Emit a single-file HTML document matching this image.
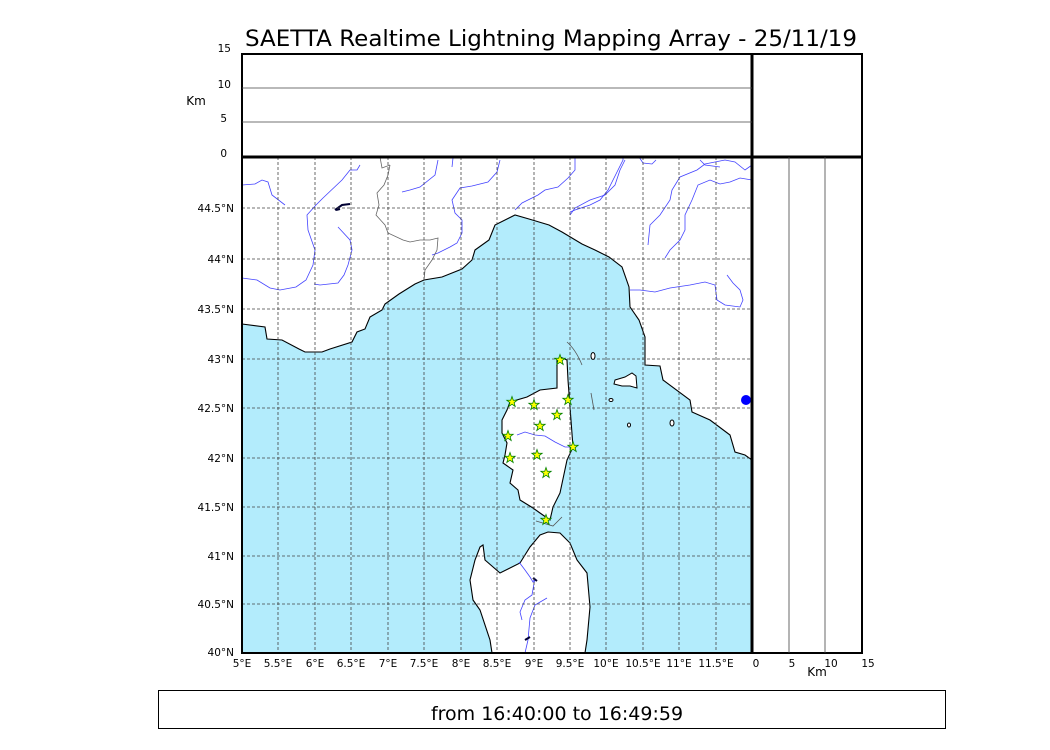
<!DOCTYPE html>
<html><head><meta charset="utf-8"><style>
body{margin:0;background:#fff;}
svg{display:block;font-family:"DejaVu Sans","Liberation Sans",sans-serif;}
</style></head><body>
<svg width="1050" height="750" viewBox="0 0 1050 750" xmlns="http://www.w3.org/2000/svg">
<rect width="1050" height="750" fill="#fff"/>
<text x="245" y="46" font-size="22" textLength="612" lengthAdjust="spacingAndGlyphs">SAETTA Realtime Lightning Mapping Array - 25/11/19</text>

<!-- sea -->
<path d="M242,324 L265,327 267,339 282,340 299,349 305,352 322,352 330,349 352,342 357,332 365,329 370,317 382,310 385,304 399,294 415,284 424,280 442,277 462,269 472,260 475,250 489,240 495,225 515,215 529,219 549,225 562,232 582,244 595,250 609,257 622,267 629,287 630,307 639,320 645,337 645,360 645,365 660,366 663,380 690,400 692,412 710,420 730,435 735,452 745,455 752,460 L752,653 L242,653 Z" fill="#b3ecfc" stroke="#000" stroke-width="1.1"/>
<!-- Corsica -->
<path d="M560,357 567,360 568,380 570,407 573,447 567,460 560,493 553,507 550,520 540,513 533,508 520,500 518,490 510,483 513,470 503,463 505,455 507,443 502,433 502,420 507,410 510,402 527,397 540,390 557,388 557,360 Z" fill="#fff" stroke="#000" stroke-width="1.1"/>
<!-- Sardinia -->
<path d="M548,532 560,533 570,543 577,560 587,573 590,607 587,640 585,653 492,653 490,640 480,610 473,600 470,580 475,560 480,547 483,545 485,560 500,573 520,563 530,547 540,535 Z" fill="#fff" stroke="#000" stroke-width="1.1"/>
<!-- small islands -->
<path d="M615,380 625,377 632,373 636,376 637,388 630,386 622,386 614,384 Z" fill="#fff" stroke="#000"/>
<ellipse cx="593" cy="356" rx="2" ry="3.5" fill="#fff" stroke="#000"/>
<ellipse cx="611" cy="400" rx="2" ry="1.5" fill="#fff" stroke="#000"/>
<ellipse cx="629" cy="425" rx="1.5" ry="2" fill="#fff" stroke="#000"/>
<ellipse cx="672" cy="423" rx="2" ry="3" fill="#fff" stroke="#000"/>
<ellipse cx="746" cy="400" rx="5" ry="5" fill="#0000ff"/>
<path d="M567,342 Q576,350 582,365" fill="none" stroke="#555" stroke-width="0.8"/>
<path d="M591,393 L594,410" fill="none" stroke="#555" stroke-width="0.8"/>
<path d="M536,521 L553,526 562,517" fill="none" stroke="#555" stroke-width="0.8"/>

<!-- rivers -->
<g fill="none" stroke="#4444ff" stroke-width="0.8">
<path d="M242,185 L255,184 262,180 268,182 272,195 285,205"/>
<path d="M360,165 L357,170 350,170 342,180 323,198 316,205 307,215 308,230 315,250 313,265 306,280 296,287 280,290 270,288 257,280 242,278"/>
<path d="M338,227 L350,240 352,250 348,265 344,275 338,283 320,285 314,284"/>
<path d="M438,160 L435,175 420,187 410,190 402,192"/>
<path d="M453,158 L452,167"/>
<path d="M500,160 L497,172 488,182 472,186 460,188 452,200 455,213 462,220 462,233 457,243 450,247 438,253 432,255"/>
<path d="M575,157 L575,170 568,178 558,187 545,190 538,195 522,203 515,210"/>
<path d="M570,215 L575,208 590,200 605,195 615,185 620,170 625,160"/>
<path d="M639,157 L643,163 652,164 656,160"/>
<path d="M700,160 L705,165 720,167"/>
<path d="M623,157 L623,160 L608,190 600,200 590,205 575,210 570,212"/>
<path d="M752,165 L745,170 735,162 725,160 705,164 697,170 680,177 672,190 670,200 660,215 650,225 648,245"/>
<path d="M752,180 L740,178 730,182 720,184 710,180 698,185 692,200 685,215 685,230 680,240 670,250 665,258"/>
<path d="M630,290 L640,290 655,292 670,288 690,285 705,282 715,285 717,300 725,305 740,307 743,300 740,290 733,283 727,275"/>
<path d="M517,435 L525,432 535,435 545,436 555,442 565,447 572,447"/>
<path d="M519,562 L525,570 530,577 533,582 535,578 532,595 525,600 520,612 522,620"/>
<path d="M547,598 L535,605 530,618 528,640 525,653"/>
</g>
<path d="M335,210 L342,205 350,204 M336,210 L340,209" stroke="#000033" stroke-width="2" fill="none"/>
<path d="M533,578 L537,581 M525,640 L530,637" stroke="#000033" stroke-width="2" fill="none"/>
<!-- border -->
<path d="M390,165 L388,175 384,185 377,193 379,205 376,215 385,225 388,233 403,240 410,242 420,240 430,240 438,238 437,250 432,260 425,270 424,280" fill="none" stroke="#666" stroke-width="0.8"/>
<path d="M380,157 L382,168 390,165" fill="none" stroke="#666" stroke-width="0.8"/>

<!-- grid -->
<g stroke="#444" stroke-width="0.8" stroke-dasharray="3,2">
<path d="M278,157V653M315,157V653M351,157V653M388,157V653M424,157V653M461,157V653M497,157V653M534,157V653M570,157V653M606,157V653M643,157V653M679,157V653M716,157V653"/>
<path d="M242,208H752M242,259H752M242,309H752M242,359H752M242,408H752M242,458H752M242,507H752M242,556H752M242,604H752"/>
</g>

<!-- stars -->
<g fill="#ffff00" stroke="#008000" stroke-width="0.8">
<path id="s" d="M0,-5.5 L1.3,-1.8 5.2,-1.7 2.1,0.7 3.2,4.5 0,2.2 -3.2,4.5 -2.1,0.7 -5.2,-1.7 -1.3,-1.8 Z" transform="translate(560,360)"/>
<use href="#s" x="-48" y="42"/><use href="#s" x="-26" y="45"/><use href="#s" x="8" y="40"/>
<use href="#s" x="-3" y="55"/><use href="#s" x="-20" y="66"/><use href="#s" x="-52" y="76"/>
<use href="#s" x="13" y="87"/><use href="#s" x="-23" y="95"/><use href="#s" x="-50" y="98"/>
<use href="#s" x="-14" y="113"/><use href="#s" x="-14" y="160"/>
</g>

<!-- frames -->
<rect x="242" y="54" width="620" height="599" fill="none" stroke="#000" stroke-width="2"/>
<line x1="242" y1="157" x2="862" y2="157" stroke="#000" stroke-width="3"/>
<line x1="752" y1="54" x2="752" y2="653" stroke="#000" stroke-width="3"/>
<line x1="242" y1="88" x2="752" y2="88" stroke="#444" stroke-width="0.8"/>
<line x1="242" y1="122" x2="752" y2="122" stroke="#444" stroke-width="0.8"/>
<line x1="789" y1="157" x2="789" y2="653" stroke="#444" stroke-width="0.8"/>
<line x1="825" y1="157" x2="825" y2="653" stroke="#444" stroke-width="0.8"/>

<!-- labels -->
<g font-size="10.5" text-anchor="end">
<text x="231" y="52">15</text><text x="231" y="88">10</text><text x="227" y="122">5</text><text x="227" y="157">0</text>
<text x="234" y="212">44.5°N</text><text x="234" y="263">44°N</text><text x="234" y="313">43.5°N</text>
<text x="234" y="363">43°N</text><text x="234" y="412">42.5°N</text><text x="234" y="462">42°N</text>
<text x="234" y="511">41.5°N</text><text x="234" y="560">41°N</text><text x="234" y="608">40.5°N</text>
<text x="234" y="656">40°N</text>
</g>
<text x="196" y="105" font-size="12" text-anchor="middle">Km</text>
<g font-size="10.5" text-anchor="middle">
<text x="242" y="667">5°E</text><text x="278" y="667">5.5°E</text><text x="315" y="667">6°E</text>
<text x="351" y="667">6.5°E</text><text x="388" y="667">7°E</text><text x="424" y="667">7.5°E</text>
<text x="461" y="667">8°E</text><text x="497" y="667">8.5°E</text><text x="534" y="667">9°E</text>
<text x="570" y="667">9.5°E</text><text x="606" y="667">10°E</text><text x="643" y="667">10.5°E</text>
<text x="679" y="667">11°E</text><text x="716" y="667">11.5°E</text>
<text x="756" y="667">0</text><text x="792" y="667">5</text><text x="831" y="667">10</text><text x="868" y="667">15</text>
</g>
<text x="817" y="676" font-size="12" text-anchor="middle">Km</text>

<rect x="158.5" y="690.5" width="787" height="38" fill="#fff" stroke="#000" stroke-width="1"/>
<text x="557" y="720" font-size="19" text-anchor="middle">from 16:40:00 to 16:49:59</text>
</svg>
</body></html>
